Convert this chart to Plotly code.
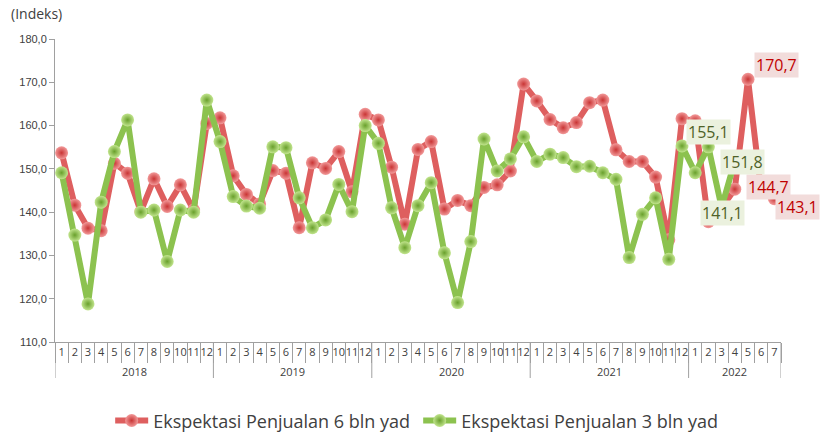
import plotly.graph_objects as go

years = ["2018", "2019", "2020", "2021", "2022"]
months_per_year = [12, 12, 12, 12, 7]

red_vals = [
    153.7, 141.6, 136.3, 135.7, 151.3, 149.0, 140.1, 147.7, 141.3, 146.3, 140.5, 160.5,
    161.8, 148.4, 144.1, 141.9, 149.6, 149.0, 136.4, 151.4, 150.1, 154.0, 144.7, 162.6,
    161.3, 150.4, 137.2, 154.5, 156.3, 140.7, 142.7, 141.5, 145.7, 146.3, 149.5, 169.6,
    165.7, 161.4, 159.5, 160.7, 165.3, 165.9, 154.4, 151.7, 151.7, 148.1, 133.6, 161.6,
    161.1, 137.8, 141.0, 145.3, 170.7, 144.7, 143.1,
]
green_vals = [
    149.1, 134.7, 118.8, 142.3, 154.0, 161.3, 140.0, 140.5, 128.6, 140.5, 140.0, 165.9,
    156.3, 143.6, 141.4, 140.9, 155.1, 154.9, 143.3, 136.4, 138.2, 146.4, 140.1, 160.0,
    155.9, 141.0, 131.8, 141.5, 146.8, 130.6, 119.1, 133.2, 156.9, 149.5, 152.3, 157.4,
    151.7, 153.4, 152.6, 150.5, 150.6, 149.1, 147.6, 129.5, 139.5, 143.3, 129.1, 155.3,
    149.1, 155.1, 141.1, 151.8,
]
red_name = "Ekspektasi Penjualan 6 bln yad"
green_name = "Ekspektasi Penjualan 3 bln yad"

cats = []
month_text = []
for y, n in zip(years, months_per_year):
    for m in range(1, n + 1):
        cats.append(f"{y}-{m}")
        month_text.append(str(m))

fig = go.Figure()
fig.add_trace(go.Scatter(
    x=cats, y=red_vals, name=red_name, mode="lines+markers",
    line=dict(color="#de5f5f", width=6),
    marker=dict(size=13, color="#f29a9a", line=dict(width=0),
                gradient=dict(type="radial", color="#c93535")),
))
g_n = len(green_vals)
fig.add_trace(go.Scatter(
    x=cats[:g_n], y=green_vals, name=green_name, mode="lines+markers",
    line=dict(color="#8cc24f", width=6),
    marker=dict(size=13, color="#c2e58e", line=dict(width=0),
                gradient=dict(type="radial", color="#69a02c")),
))

# data labels for last three points of each series
red_lab = [(52, 28, 14), (53, 7, 5), (54, 23, -8)]
green_lab = [(49, 0, 15), (50, 1, -6), (51, 8, -1)]
for idx, dx, dy in red_lab:
    fig.add_annotation(x=idx, y=red_vals[idx], text=f"{red_vals[idx]:.1f}".replace(".", ","),
                       showarrow=False, xshift=dx, yshift=dy, bgcolor="#f2dcdb",
                       font=dict(size=16, color="#c00000", family="Open Sans"), borderpad=1)
for idx, dx, dy in green_lab:
    fig.add_annotation(x=idx, y=green_vals[idx], text=f"{green_vals[idx]:.1f}".replace(".", ","),
                       showarrow=False, xshift=dx, yshift=dy, bgcolor="#ebf1de",
                       font=dict(size=16, color="#4f6228", family="Open Sans"), borderpad=1)

# year group labels and dividers
start = 0
bounds = [-0.5]
for y, n in zip(years, months_per_year):
    mid = start + (n - 1) / 2
    fig.add_annotation(x=mid, y=-29 / 303, xref="x", yref="paper", text=y, showarrow=False,
                       yanchor="middle", font=dict(size=11, color="#404040", family="Open Sans"))
    start += n
    bounds.append(start - 0.5)
for b in bounds:
    fig.add_shape(type="line", x0=b, x1=b, y0=0, y1=-36 / 303, xref="x", yref="paper",
                  line=dict(color="#a0a0a0", width=1))

fig.add_annotation(x=0, y=1, xref="paper", yref="paper", xshift=-46, yshift=26,
                   text="(Indeks)", showarrow=False, xanchor="left", yanchor="middle",
                   font=dict(size=14, color="#404040", family="Open Sans"))

fig.update_layout(
    width=827, height=434,
    margin=dict(l=55, r=46, t=39, b=92, autoexpand=False),
    paper_bgcolor="white", plot_bgcolor="white",
    separators=",.",
    showlegend=True,
    legend=dict(orientation="h", x=0.076, y=-0.26, xanchor="left", yanchor="middle",
                font=dict(size=18, color="#404040", family="Open Sans"),
                itemwidth=33, entrywidth=260, entrywidthmode="pixels"),
    font=dict(family="Open Sans", color="#404040"),
)
fig.update_xaxes(
    type="category", categoryorder="array", categoryarray=cats,
    range=[-0.5, len(cats) - 0.5],
    tickmode="array", tickvals=cats, ticktext=month_text, tickangle=0,
    showline=True, linecolor="#a0a0a0", linewidth=1,
    ticks="outside", tickson="boundaries", ticklen=20, tickcolor="#a0a0a0",
    ticklabelstandoff=0,
    tickfont=dict(size=11, color="#404040", family="Open Sans"),
    showgrid=False, zeroline=False, automargin=False,
)
fig.update_yaxes(
    range=[110, 180], tickvals=[110, 120, 130, 140, 150, 160, 170, 180], tickformat=".1f",
    showline=True, linecolor="#a0a0a0", linewidth=1, ticks="outside", ticklen=5,
    tickcolor="#a0a0a0", showgrid=False, zeroline=False, automargin=False,
    tickfont=dict(size=11, color="#404040", family="Liberation Sans"),
)

fig.write_html("out.html", config={"displayModeBar": False},
               post_script="document.body.style.margin='0';document.body.style.overflow='hidden';")
